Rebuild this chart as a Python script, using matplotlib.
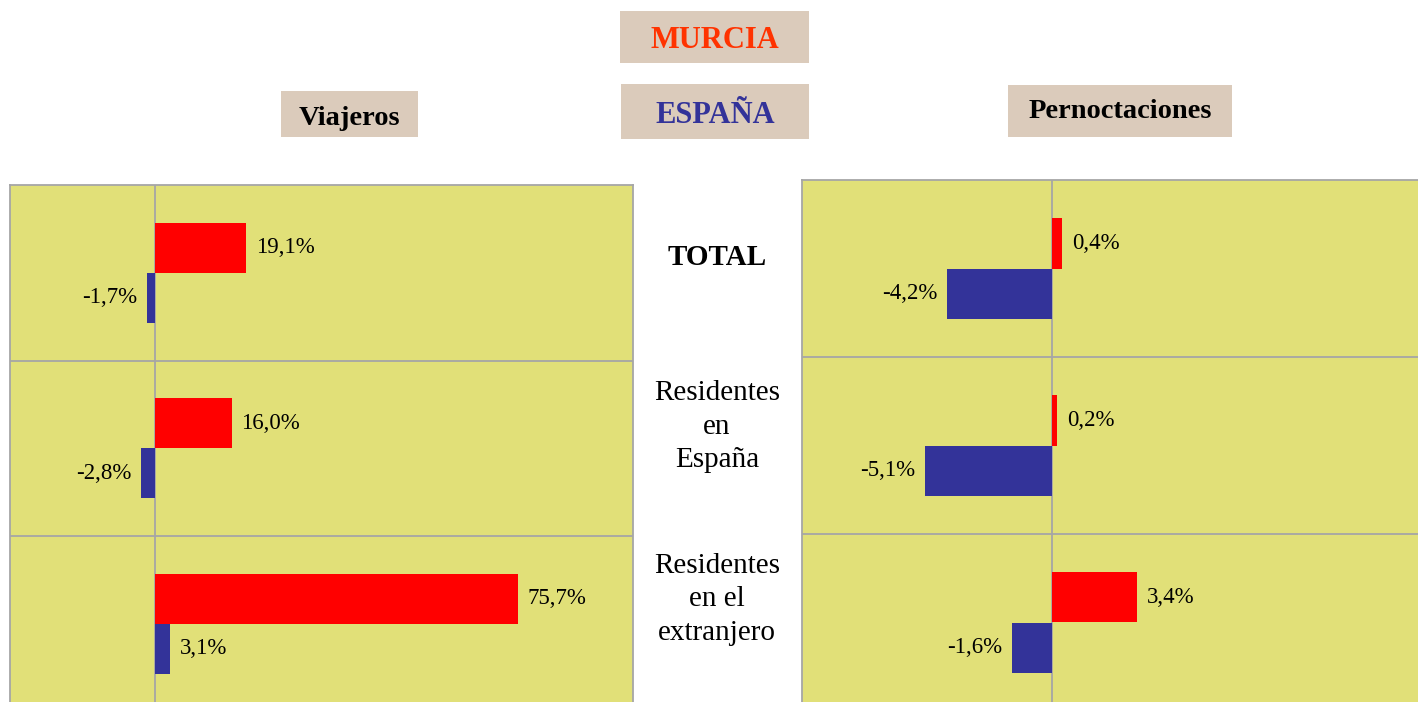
import matplotlib.pyplot as plt
import matplotlib.patches as patches
import numpy as np

plt.rcParams['font.family'] = ['Liberation Serif', 'DejaVu Serif']

# Data
categories = ['TOTAL', 'Residentes\nen\nEspaña', 'Residentes\nen el\nextranjero']
viajeros_murcia = [19.1, 16.0, 75.7]
viajeros_espana = [-1.7, -2.8, 3.1]
pernoct_murcia = [0.4, 0.2, 3.4]
pernoct_espana = [-4.2, -5.1, -1.6]

# Colours
c_murcia = '#FF0000'
c_espana = '#333399'
c_panel = '#E1E078'
c_grid = '#A6A6A6'
c_box = '#DBCBBB'

W, H = 1418, 702
fig = plt.figure(figsize=(W / 100, H / 100), dpi=100)
fig.patch.set_facecolor('white')


def fx(px):
    return px / W


def fy(py):
    return 1 - py / H


def fmt(v):
    return f"{v:.1f}%".replace('.', ',')


def add_panel(left, top, width, height, xlim, murcia, espana):
    ax = fig.add_axes([fx(left), fy(top + height), width / W, height / H])
    ax.set_facecolor(c_panel)
    y = np.arange(len(categories))
    bh = 0.285
    ax.barh(y - bh / 2, murcia, height=bh, color=c_murcia, zorder=3)
    ax.barh(y + bh / 2, espana, height=bh, color=c_espana, zorder=3)
    for yy, v in list(zip(y - bh / 2, murcia)) + list(zip(y + bh / 2, espana)):
        ax.annotate(fmt(v), (v, yy), xytext=(7 if v >= 0 else -7, 0),
                    textcoords='offset points', ha='left' if v >= 0 else 'right',
                    va='center', fontsize=16.5)
    ax.axvline(0, color=c_grid, lw=1.3, zorder=2)
    for b in [0.5, 1.5]:
        ax.axhline(b, color=c_grid, lw=1.3, zorder=2)
    ax.set_xlim(*xlim)
    ax.set_ylim(2.5, -0.5)
    ax.set_xticks([])
    ax.set_yticks([])
    for s in ax.spines.values():
        s.set_color(c_grid)
        s.set_linewidth(1.3)
    return ax


add_panel(10, 185, 623, 526.5, (-30.2, 99.7), viajeros_murcia, viajeros_espana)
add_panel(802, 180, 625, 531, (-10, 15), pernoct_murcia, pernoct_espana)


def title_box(x0, y0, x1, y1, base, label, color, size):
    rect = patches.Rectangle((fx(x0), fy(y1)), (x1 - x0) / W, (y1 - y0) / H,
                             transform=fig.transFigure, facecolor=c_box,
                             edgecolor='none')
    fig.patches.append(rect)
    fig.text(fx((x0 + x1) / 2), fy(base), label, ha='center',
             va='baseline', fontsize=size, weight='bold', color=color)


title_box(620, 11, 809, 63, 48, 'MURCIA', '#FF3300', 22)
title_box(621, 84, 809, 139, 123, 'ESPAÑA', c_espana, 22)
title_box(281, 91, 418, 137, 125, 'Viajeros', 'black', 20.5)
title_box(1008, 85, 1232, 137, 118, 'Pernoctaciones', 'black', 20.5)

# Category labels in the middle, one text per line
first_baseline = [265, 400, 573]
line_step = 33.5
for i, (lab, yb) in enumerate(zip(categories, first_baseline)):
    for j, line in enumerate(lab.split('\n')):
        fig.text(fx(717), fy(yb + j * line_step), line, ha='center',
                 va='baseline', fontsize=21,
                 weight='bold' if i == 0 else 'normal')

plt.savefig('out.png', dpi=100, facecolor='white')
plt.close()
